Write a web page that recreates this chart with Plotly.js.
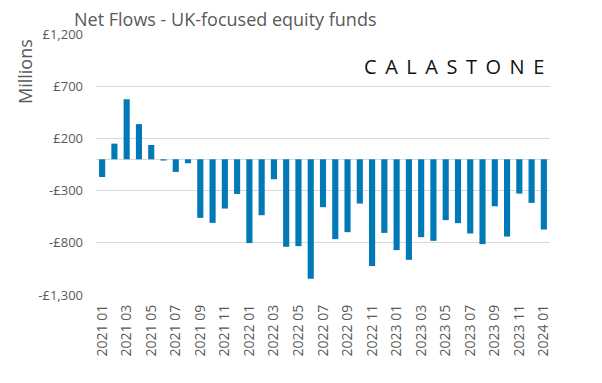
<!DOCTYPE html>
<html>
<head>
<meta charset="utf-8">
<script src="https://cdn.plot.ly/plotly-3.0.1.min.js"></script>
<style>html,body{margin:0;padding:0;background:#fff;}#chart{width:602px;height:383px;}</style>
</head>
<body>
<div id="chart"></div>
<script>
const months = ["2021 01","2021 02","2021 03","2021 04","2021 05","2021 06","2021 07","2021 08","2021 09","2021 10","2021 11","2021 12",
  "2022 01","2022 02","2022 03","2022 04","2022 05","2022 06","2022 07","2022 08","2022 09","2022 10","2022 11","2022 12",
  "2023 01","2023 02","2023 03","2023 04","2023 05","2023 06","2023 07","2023 08","2023 09","2023 10","2023 11","2023 12","2024 01"];
const netFlows = [-170,150,575,337,137,-12,-121,-38,-561,-609,-472,-332,
  -803,-536,-191,-838,-832,-1144,-459,-765,-698,-424,-1023,-705,
  -870,-963,-746,-781,-583,-612,-711,-813,-450,-740,-329,-418,-673];
const yTickVals = [-1300,-800,-300,200,700,1200];
const yTickText = ["-£1,300","-£800","-£300","£200","£700","£1,200"];
const xTickVals = months.filter((m,i)=>i%2===0);
const logoLetters = ["C","A","L","A","S","T","O","N","E"];

const font = "Open Sans, sans-serif";
const grey = "#595959";
const sep = " \u2006";

Plotly.newPlot("chart", [{
  type: "bar",
  x: months,
  y: netFlows,
  marker: {color: "#0079B6"},
  hoverinfo: "x+y"
}], {
  width: 602, height: 383,
  margin: {l: 96, r: 52, t: 34, b: 88},
  paper_bgcolor: "#fff", plot_bgcolor: "#fff",
  bargap: 0.5,
  showlegend: false,
  title: {text: "Net Flows - UK-focused equity funds", x: 74/602, xanchor: "left", y: 1 - 19.5/383, yanchor: "middle",
          font: {family: font, size: 18, color: grey}},
  xaxis: {type: "category", range: [-0.5, 36.5], tickmode: "array", tickvals: xTickVals, ticktext: xTickVals,
          tickangle: -90, tickfont: {family: font, size: 14, color: grey}, showgrid: false, showline: false,
          ticks: "", ticklen: 0, ticklabelstandoff: 6},
  yaxis: {range: [-1300, 1200], tickmode: "array", tickvals: yTickVals, ticktext: yTickText,
          tickfont: {family: font, size: 13, color: grey}, gridcolor: "#d9d9d9", gridwidth: 1,
          zeroline: true, zerolinecolor: "#d9d9d9", zerolinewidth: 1, showline: false, ticks: "",
          ticklabelstandoff: 12},
  annotations: [{
    text: "Millions", xref: "paper", yref: "paper", x: (25-96)/454, xanchor: "center", y: 1 - (72-34)/261, yanchor: "middle",
    textangle: -90, showarrow: false, font: {family: font, size: 18, color: grey}
  }, {
    text: logoLetters.join(sep), xref: "paper", yref: "paper", x: (546-96)/454, xanchor: "right", y: 1 - (66-34)/261, yanchor: "middle",
    showarrow: false, font: {family: font, size: 20, color: "#111"}
  }]
}, {displayModeBar: false, staticPlot: true});
</script>
</body>
</html>
